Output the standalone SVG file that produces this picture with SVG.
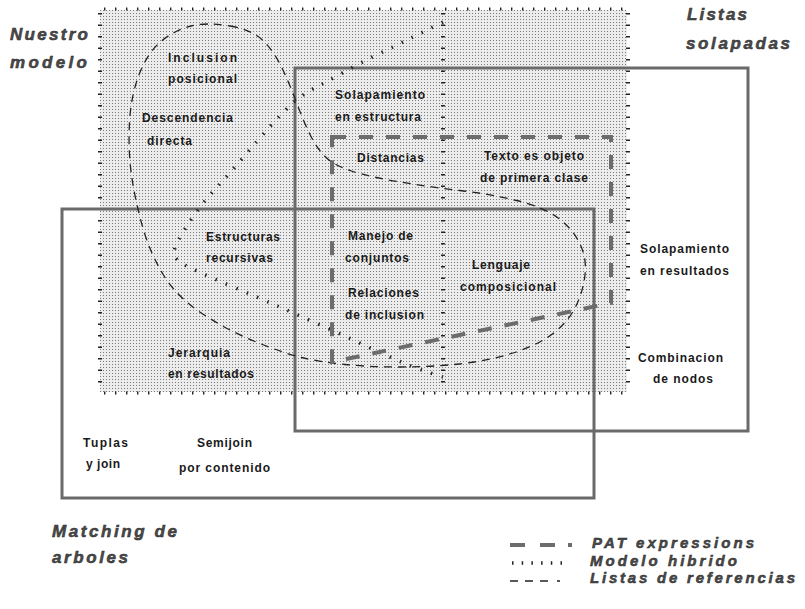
<svg xmlns="http://www.w3.org/2000/svg" width="805" height="609" viewBox="0 0 805 609">
  <defs>
    <pattern id="dots" width="3" height="3" patternUnits="userSpaceOnUse">
      <rect width="3" height="3" fill="#ececec"/>
      <rect x="1" y="1" width="1" height="1" fill="#7a7a7a"/>
    </pattern>
  </defs>
  <style>
    .lbl { font-family: "Liberation Sans", Arial, sans-serif; font-weight: bold; font-size: 12px; fill: #1a1a1a; }
    .ttl { font-family: "Liberation Sans", Arial, sans-serif; font-weight: bold; font-style: italic; font-size: 17px; fill: #4a4a4a; stroke: #2a2a2a; stroke-width: 0.5; }
    .leg { font-family: "Liberation Sans", Arial, sans-serif; font-weight: bold; font-style: italic; font-size: 15px; fill: #4a4a4a; stroke: #2a2a2a; stroke-width: 0.5; }
    .tickh { stroke: #222; stroke-width: 3; stroke-dasharray: 1.4 9.6; fill: none; }
    .tickv { stroke: #222; stroke-width: 4; stroke-dasharray: 1.6 9.9; fill: none; }
    .box { fill: none; stroke: #6a6a6a; stroke-width: 3; }
    .pat { fill: none; stroke: #6c6c6c; stroke-width: 4; stroke-dasharray: 14 13; }
    .hib { fill: none; stroke: #222; stroke-width: 3.5; stroke-dasharray: 1.5 9.7; }
    .ref { fill: none; stroke: #222; stroke-width: 1.3; stroke-dasharray: 8 6; }
  </style>
  <rect width="805" height="609" fill="#ffffff"/>

  <g id="nuestro-modelo">
    <rect x="100" y="10" width="527" height="382" fill="url(#dots)"/>
    <line class="tickh" x1="104" y1="9" x2="628" y2="9"/>
    <line class="tickh" x1="104" y1="393" x2="628" y2="393"/>
    <line class="tickv" x1="100" y1="13" x2="100" y2="392"/>
    <line class="tickv" x1="628" y1="13" x2="628" y2="392"/>
    <line class="tickv" x1="443" y1="13" x2="443" y2="392"/>
    <text class="ttl" x="10" y="40" textLength="78" lengthAdjust="spacing">Nuestro</text>
    <text class="ttl" x="10" y="68" textLength="77" lengthAdjust="spacing">modelo</text>
  </g>

  <g id="listas-solapadas">
    <rect class="box" x="295" y="68" width="453" height="363"/>
    <text class="ttl" x="687" y="20" textLength="60" lengthAdjust="spacing">Listas</text>
    <text class="ttl" x="686" y="49" textLength="104" lengthAdjust="spacing">solapadas</text>
  </g>

  <g id="matching-arboles">
    <rect class="box" x="62" y="209" width="532" height="289"/>
    <text class="ttl" x="52" y="537" textLength="125" lengthAdjust="spacing">Matching de</text>
    <text class="ttl" x="52" y="563" textLength="76" lengthAdjust="spacing">arboles</text>
  </g>

  <g id="connectors">
    <path id="listas-referencias" class="ref" d="M230,26 Q253,30 264,41.5 Q275,53 282.5,69 Q290,85 296.5,102.5 Q303,120 309.5,133.5 Q316,147 324.5,156 Q333,165 351.5,171 Q370,177 400,182 Q430,187 460,190.5 Q490,194 516.5,200.5 Q543,207 557.5,217.5 Q572,228 579.5,243 Q587,258 585,275 Q583,292 575.5,307 Q568,322 553,333.5 Q538,345 513,353 Q488,361 459,364 Q430,367 400,367 Q370,367 345,364.5 Q320,362 301.5,357.5 Q283,353 255,341.5 Q227,330 202,313.5 Q177,297 163.5,275 Q150,253 142.5,226.5 Q135,200 131.5,175 Q128,150 129.5,122.5 Q131,95 139.5,73.5 Q148,52 161.5,41 Q175,30 191,26 Q207,22 230,26 Z"/>
    <path id="modelo-hibrido" class="hib" d="M443,22 Q425,31 410,38.5 Q395,46 377.5,54.5 Q360,63 345,71.5 Q330,80 316.5,87 Q303,94 293,103 Q283,112 270.5,126 Q258,140 244,156.5 Q230,173 217.5,186.5 Q205,200 195,214 Q185,228 178.5,240 Q172,252 175,257 Q178,262 191.5,268.5 Q205,275 231,286 Q257,297 278.5,306.5 Q300,316 322.5,326 Q345,336 365,345.5 Q385,355 402.5,362.5 Q420,370 443,377"/>
    <path id="pat-expressions" class="pat" d="M332,137 H611 V303 L332,362 Z"/>
  </g>

  <g id="labels">
    <text class="lbl" x="168" y="62" textLength="69" lengthAdjust="spacing">Inclusion</text>
    <text class="lbl" x="168" y="83" textLength="69" lengthAdjust="spacing">posicional</text>
    <text class="lbl" x="142" y="122" textLength="91" lengthAdjust="spacing">Descendencia</text>
    <text class="lbl" x="147" y="145" textLength="45" lengthAdjust="spacing">directa</text>
    <text class="lbl" x="335" y="99" textLength="90" lengthAdjust="spacing">Solapamiento</text>
    <text class="lbl" x="335" y="121" textLength="86" lengthAdjust="spacing">en estructura</text>
    <text class="lbl" x="357" y="162" textLength="67" lengthAdjust="spacing">Distancias</text>
    <text class="lbl" x="484" y="160" textLength="100" lengthAdjust="spacing">Texto es objeto</text>
    <text class="lbl" x="480" y="182" textLength="108" lengthAdjust="spacing">de primera clase</text>
    <text class="lbl" x="206" y="241" textLength="74" lengthAdjust="spacing">Estructuras</text>
    <text class="lbl" x="206" y="262" textLength="67" lengthAdjust="spacing">recursivas</text>
    <text class="lbl" x="168" y="357" textLength="62" lengthAdjust="spacing">Jerarquia</text>
    <text class="lbl" x="168" y="378" textLength="86" lengthAdjust="spacing">en resultados</text>
    <text class="lbl" x="348" y="240" textLength="65" lengthAdjust="spacing">Manejo de</text>
    <text class="lbl" x="345" y="262" textLength="64" lengthAdjust="spacing">conjuntos</text>
    <text class="lbl" x="348" y="297" textLength="71" lengthAdjust="spacing">Relaciones</text>
    <text class="lbl" x="345" y="319" textLength="79" lengthAdjust="spacing">de inclusion</text>
    <text class="lbl" x="472" y="269" textLength="58" lengthAdjust="spacing">Lenguaje</text>
    <text class="lbl" x="460" y="291" textLength="96" lengthAdjust="spacing">composicional</text>
    <text class="lbl" x="640" y="253" textLength="89" lengthAdjust="spacing">Solapamiento</text>
    <text class="lbl" x="640" y="275" textLength="89" lengthAdjust="spacing">en resultados</text>
    <text class="lbl" x="638" y="362" textLength="85" lengthAdjust="spacing">Combinacion</text>
    <text class="lbl" x="653" y="383" textLength="60" lengthAdjust="spacing">de nodos</text>
    <text class="lbl" x="83" y="447" textLength="45" lengthAdjust="spacing">Tuplas</text>
    <text class="lbl" x="86" y="468" textLength="34" lengthAdjust="spacing">y join</text>
    <text class="lbl" x="197" y="447" textLength="55" lengthAdjust="spacing">Semijoin</text>
    <text class="lbl" x="179" y="472" textLength="91" lengthAdjust="spacing">por contenido</text>
  </g>

  <g id="legend">
    <path d="M510,545 H525 M540,545 H555 M568,545 H572" stroke="#6c6c6c" stroke-width="4" fill="none"/>
    <line class="hib" x1="512" y1="563" x2="562" y2="563" style="stroke-dasharray:1.5 8.2"/>
    <path d="M510,581 H518 M525,581 H533 M540,581 H548 M557,581 H560" stroke="#222" stroke-width="1.3" fill="none"/>
    <text class="leg" x="592" y="548" textLength="162" lengthAdjust="spacing">PAT expressions</text>
    <text class="leg" x="590" y="566" textLength="147" lengthAdjust="spacing">Modelo hibrido</text>
    <text class="leg" x="590" y="583" textLength="205" lengthAdjust="spacing">Listas de referencias</text>
  </g>
</svg>
